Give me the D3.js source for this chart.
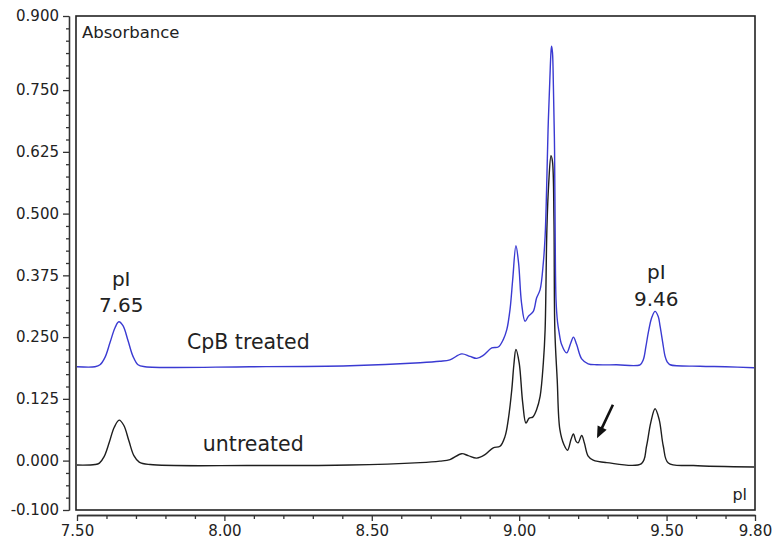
<!DOCTYPE html>
<html><head><meta charset="utf-8">
<script src="https://cdn.jsdelivr.net/npm/d3@7"></script>
<style>html,body{margin:0;padding:0;background:#fff;} svg{display:block;}</style>
</head><body>
<script>
// ---- data (pI vs absorbance) ----
const treatedX = [7.500, 7.561, 7.578, 7.595, 7.612, 7.629, 7.642, 7.656, 7.673, 7.690, 7.707, 7.731,
  8.087, 8.426, 8.664, 8.731, 8.765, 8.805, 8.833, 8.856, 8.878, 8.907, 8.929, 8.946, 8.958, 8.969,
  8.978, 8.989, 8.998, 9.008, 9.020, 9.031, 9.048, 9.059, 9.071, 9.082, 9.088, 9.093, 9.098, 9.104,
  9.108, 9.110, 9.113, 9.116, 9.120, 9.122, 9.125, 9.130, 9.135, 9.144, 9.161, 9.175, 9.184, 9.195,
  9.212, 9.234, 9.263, 9.330, 9.410, 9.421, 9.430, 9.438, 9.450, 9.461, 9.472, 9.478, 9.487, 9.495,
  9.502, 9.512, 9.613, 9.700, 9.797];
const treatedY = [0.190, 0.190, 0.194, 0.209, 0.239, 0.269, 0.281, 0.273, 0.243, 0.211, 0.194, 0.190,
  0.190, 0.192, 0.198, 0.201, 0.204, 0.216, 0.211, 0.207, 0.213, 0.228, 0.230, 0.245, 0.265, 0.306,
  0.366, 0.435, 0.400, 0.319, 0.282, 0.292, 0.302, 0.329, 0.346, 0.401, 0.454, 0.548, 0.670, 0.771,
  0.828, 0.839, 0.826, 0.761, 0.630, 0.468, 0.326, 0.281, 0.261, 0.235, 0.218, 0.238, 0.250, 0.235,
  0.206, 0.196, 0.194, 0.194, 0.194, 0.204, 0.231, 0.259, 0.290, 0.302, 0.291, 0.272, 0.239, 0.211,
  0.200, 0.194, 0.191, 0.190, 0.188];

const untreatedX = [7.500, 7.561, 7.576, 7.592, 7.609, 7.626, 7.643, 7.659, 7.676, 7.693, 7.711, 7.748,
  8.087, 8.426, 8.664, 8.731, 8.765, 8.805, 8.827, 8.856, 8.884, 8.912, 8.935, 8.952, 8.963, 8.975,
  8.982, 8.989, 9.000, 9.012, 9.023, 9.034, 9.046, 9.059, 9.071, 9.082, 9.088, 9.094, 9.100, 9.108,
  9.113, 9.118, 9.121, 9.129, 9.138, 9.152, 9.164, 9.176, 9.184, 9.193, 9.200, 9.212, 9.221, 9.234,
  9.251, 9.297, 9.415, 9.432, 9.446, 9.461, 9.475, 9.489, 9.506, 9.591, 9.797];
const untreatedY = [-0.009, -0.008, -0.005, 0.008, 0.036, 0.067, 0.082, 0.071, 0.040, 0.010, -0.003, -0.008,
  -0.010, -0.009, -0.004, -0.001, 0.002, 0.014, 0.010, 0.005, 0.012, 0.026, 0.029, 0.049, 0.083, 0.144,
  0.194, 0.225, 0.198, 0.117, 0.076, 0.086, 0.088, 0.103, 0.130, 0.198, 0.265, 0.468, 0.559, 0.617,
  0.605, 0.488, 0.265, 0.164, 0.063, 0.032, 0.021, 0.043, 0.054, 0.039, 0.036, 0.051, 0.036, 0.009,
  0.001, -0.004, -0.006, 0.029, 0.076, 0.105, 0.083, 0.029, -0.005, -0.010, -0.013];

const yTickValues = [0.900, 0.750, 0.625, 0.500, 0.375, 0.250, 0.125, 0.000, -0.100];
const xTickValues = [7.50, 8.00, 8.50, 9.00, 9.50, 9.80];
const yMinorValues = d3.range(-100, 901, 25).map(v => v / 1000).filter(v => !yTickValues.some(t => Math.abs(t - v) < 1e-9));
const xMinorValues = d3.range(75, 99, 1).map(v => v / 10).filter(v => !xTickValues.some(t => Math.abs(t - v) < 1e-9));

const peakLabels = [
  {lines: ["pI", "7.65"], x: 7.65, y: [0.354, 0.300]},
  {lines: ["pI", "9.46"], x: 9.465, y: [0.368, 0.312]}
];
const seriesLabels = [
  {text: "CpB treated", x: 7.873, y: 0.225},
  {text: "untreated", x: 7.927, y: 0.019}
];
const arrowFrom = [9.318, 0.113], arrowTo = [9.264, 0.045];

// ---- drawing ----
const W = 774, H = 548;
const svg = d3.select("body").append("svg").attr("width", W).attr("height", H);
svg.append("rect").attr("width", W).attr("height", H).attr("fill", "#fff");

const x = d3.scaleLinear().domain([7.5, 9.8]).range([77, 755]);
const y = d3.scaleLinear().domain([-0.1, 0.9]).range([510, 16]);

const FONT = "DejaVu Sans, Verdana, sans-serif";
const INK = "#222";

// frame
svg.append("rect").attr("x", 76).attr("y", 16).attr("width", 679).attr("height", 494)
  .attr("fill", "none").attr("stroke", INK).attr("stroke-width", 1.6);

// y axis
const gy = svg.append("g").attr("transform", "translate(69,0)")
  .call(d3.axisLeft(y).tickValues(yTickValues).tickFormat(d => d.toFixed(3)).tickSize(6).tickSizeOuter(0).tickPadding(4));
svg.append("g").attr("transform", "translate(69,0)")
  .call(d3.axisLeft(y).tickValues(yMinorValues).tickFormat("").tickSize(3).tickSizeOuter(0));
// x axis
const gx = svg.append("g").attr("transform", "translate(0,515)")
  .call(d3.axisBottom(x).tickValues(xTickValues).tickFormat(d => d.toFixed(2)).tickSize(6).tickSizeOuter(0).tickPadding(4));
svg.append("g").attr("transform", "translate(0,515)")
  .call(d3.axisBottom(x).tickValues(xMinorValues).tickFormat("").tickSize(4).tickSizeOuter(0));

svg.selectAll(".domain, .tick line").attr("stroke", "#333").attr("stroke-width", 1.3);
svg.selectAll(".tick text").attr("font-family", FONT).attr("font-size", 15).attr("fill", INK);

// axis captions
svg.append("text").attr("x", 82).attr("y", 38).text("Absorbance")
  .attr("font-family", FONT).attr("font-size", 16.5).attr("fill", INK);
svg.append("text").attr("x", 747).attr("y", 500).attr("text-anchor", "end").text("pl")
  .attr("font-family", FONT).attr("font-size", 16).attr("fill", INK);

// series
const line = d3.line().x(d => x(d[0])).y(d => y(d[1])).curve(d3.curveCatmullRom.alpha(0.5));
svg.append("path").datum(d3.zip(untreatedX, untreatedY)).attr("d", line)
  .attr("fill", "none").attr("stroke", "#1e1e1e").attr("stroke-width", 1.4);
svg.append("path").datum(d3.zip(treatedX, treatedY)).attr("d", line)
  .attr("fill", "none").attr("stroke", "#3a3ad2").attr("stroke-width", 1.4);

// labels
peakLabels.forEach(p => {
  p.lines.forEach((t, i) => {
    svg.append("text").attr("x", x(p.x)).attr("y", y(p.y[i])).attr("text-anchor", "middle").text(t)
      .attr("font-family", FONT).attr("font-size", 20).attr("fill", INK);
  });
});
seriesLabels.forEach(s => {
  svg.append("text").attr("x", x(s.x)).attr("y", y(s.y)).text(s.text)
    .attr("font-family", FONT).attr("font-size", 20.5).attr("fill", INK);
});

// arrow
const p0 = [x(arrowFrom[0]), y(arrowFrom[1])], p1 = [x(arrowTo[0]), y(arrowTo[1])];
const dx = p1[0] - p0[0], dy = p1[1] - p0[1], len = Math.hypot(dx, dy);
const ux = dx / len, uy = dy / len, hl = 12, hw = 5;
const base = [p1[0] - ux * hl, p1[1] - uy * hl];
svg.append("line").attr("x1", p0[0]).attr("y1", p0[1]).attr("x2", base[0] + ux * 2).attr("y2", base[1] + uy * 2)
  .attr("stroke", "#111").attr("stroke-width", 2.6);
svg.append("path")
  .attr("d", `M${p1[0]},${p1[1]}L${base[0] - uy * hw},${base[1] + ux * hw}L${base[0] + uy * hw},${base[1] - ux * hw}Z`)
  .attr("fill", "#111");
</script>
</body></html>
